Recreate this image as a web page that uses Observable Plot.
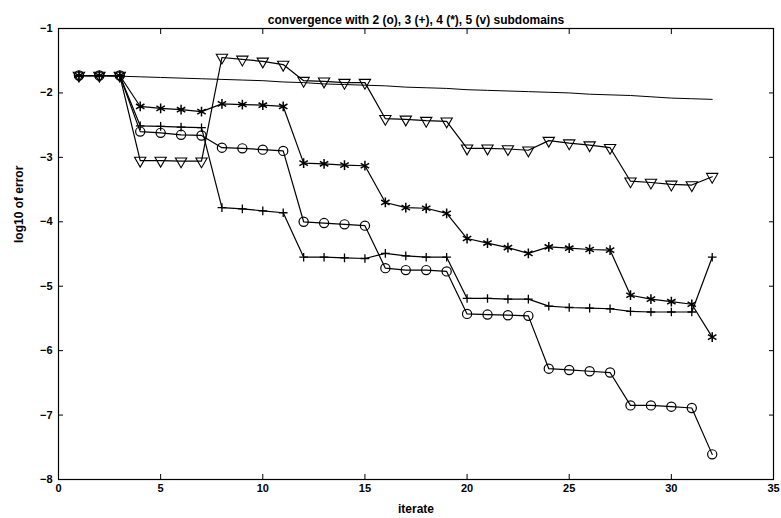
<!DOCTYPE html>
<html>
<head>
<meta charset="utf-8">
<script src="https://cdn.jsdelivr.net/npm/d3@7"></script>
<script src="https://cdn.jsdelivr.net/npm/@observablehq/plot@0.6"></script>
<style>
  html, body { margin: 0; padding: 0; background: white; }
</style>
</head>
<body>
<div id="chart"></div>
<script>
const title = "convergence with 2 (o), 3 (+), 4 (*), 5 (v) subdomains";
const xLabel = "iterate";
const yLabel = "log10 of error";
const xTicks = [0, 5, 10, 15, 20, 25, 30, 35];
const yTicks = [-8, -7, -6, -5, -4, -3, -2, -1];

const iterates = [1,2,3,4,5,6,7,8,9,10,11,12,13,14,15,16,17,18,19,20,21,22,23,24,25,26,27,28,29,30,31,32];

// 2 subdomains (o)
const sub2 = [-1.73,-1.73,-1.73,-2.60,-2.62,-2.65,-2.66,-2.85,-2.86,-2.88,-2.90,-4.00,-4.02,-4.04,-4.06,-4.72,-4.75,-4.75,-4.77,-5.43,-5.44,-5.45,-5.46,-6.28,-6.30,-6.32,-6.34,-6.85,-6.85,-6.87,-6.89,-7.61];
// 3 subdomains (+)
const sub3 = [-1.73,-1.73,-1.73,-2.51,-2.52,-2.53,-2.54,-3.78,-3.80,-3.83,-3.86,-4.55,-4.55,-4.56,-4.57,-4.49,-4.53,-4.55,-4.55,-5.19,-5.19,-5.20,-5.20,-5.31,-5.33,-5.34,-5.35,-5.39,-5.40,-5.40,-5.40,-4.55];
// 4 subdomains (*)
const sub4 = [-1.73,-1.73,-1.73,-2.21,-2.24,-2.26,-2.29,-2.17,-2.18,-2.19,-2.21,-3.09,-3.10,-3.12,-3.13,-3.70,-3.78,-3.79,-3.87,-4.26,-4.33,-4.40,-4.49,-4.39,-4.41,-4.43,-4.44,-5.14,-5.20,-5.24,-5.28,-5.79];
// 5 subdomains (v)
const sub5 = [-1.73,-1.73,-1.73,-3.05,-3.05,-3.06,-3.06,-1.45,-1.48,-1.51,-1.56,-1.81,-1.82,-1.84,-1.84,-2.40,-2.41,-2.43,-2.44,-2.86,-2.86,-2.87,-2.89,-2.74,-2.78,-2.81,-2.85,-3.37,-3.39,-3.42,-3.43,-3.30];
// reference line without markers
const plain = [-1.73,-1.73,-1.74,-1.75,-1.76,-1.77,-1.78,-1.79,-1.80,-1.81,-1.83,-1.84,-1.86,-1.87,-1.88,-1.89,-1.91,-1.92,-1.93,-1.95,-1.96,-1.97,-1.98,-1.99,-2.00,-2.02,-2.03,-2.04,-2.06,-2.08,-2.09,-2.10];

const font = "'Liberation Sans', Arial, Helvetica, sans-serif";
const lw = 1.2;
const fmt = d => (d < 0 ? "\u2212" : "") + Math.abs(d);

const chart = Plot.plot({
  width: 781,
  height: 518,
  marginTop: 28,
  marginLeft: 58,
  marginRight: 8,
  marginBottom: 39,
  style: { fontFamily: font, fontSize: "11px", fontWeight: "bold", background: "white", color: "black" },
  x: { domain: [0, 35] },
  y: { domain: [-8, -1] },
  marks: [
    Plot.frame({ stroke: "black", strokeWidth: 1.2 }),
    Plot.axisX({ ticks: xTicks, tickSize: -5, tickPadding: 10, label: null, fontSize: 11, tickFormat: fmt }),
    Plot.axisX({ anchor: "top", ticks: xTicks, tickSize: -5, tickFormat: () => "", label: null }),
    Plot.axisY({ ticks: yTicks, tickSize: -5, tickPadding: 11, label: null, fontSize: 11, tickFormat: fmt }),
    Plot.axisY({ anchor: "right", ticks: yTicks, tickSize: -5, tickFormat: () => "", label: null }),

    Plot.line(plain, { x: iterates, y: plain, stroke: "black", strokeWidth: 1 }),
    Plot.line(sub2, { x: iterates, y: sub2, stroke: "black", strokeWidth: lw }),
    Plot.line(sub3, { x: iterates, y: sub3, stroke: "black", strokeWidth: lw }),
    Plot.line(sub4, { x: iterates, y: sub4, stroke: "black", strokeWidth: lw }),
    Plot.line(sub5, { x: iterates, y: sub5, stroke: "black", strokeWidth: lw }),

    Plot.dot(sub2, { x: iterates, y: sub2, symbol: "circle", r: 4.6, stroke: "black", fill: "none", strokeWidth: 1.2 }),
    Plot.dot(sub3, { x: iterates, y: sub3, symbol: "plus", r: 2.9, stroke: "black", strokeWidth: 1.3 }),
    Plot.dot(sub4, { x: iterates, y: sub4, symbol: "asterisk", r: 4.6, stroke: "black", strokeWidth: 1.5 }),
    Plot.dot(sub5, { x: iterates, y: sub5, symbol: "triangle", rotate: 180, r: 4.2, stroke: "black", fill: "none", strokeWidth: 1.1 }),

    Plot.text([title], { frameAnchor: "top", dy: -13.5, fontSize: 12, fontWeight: "bold" }),
    Plot.text([xLabel], { frameAnchor: "bottom", dy: 33.5, fontSize: 12, fontWeight: "bold" }),
    Plot.text([yLabel], { frameAnchor: "left", dx: -39, dy: -11, rotate: -90, fontSize: 12, fontWeight: "bold" })
  ]
});

document.getElementById("chart").appendChild(chart);
</script>
</body>
</html>
